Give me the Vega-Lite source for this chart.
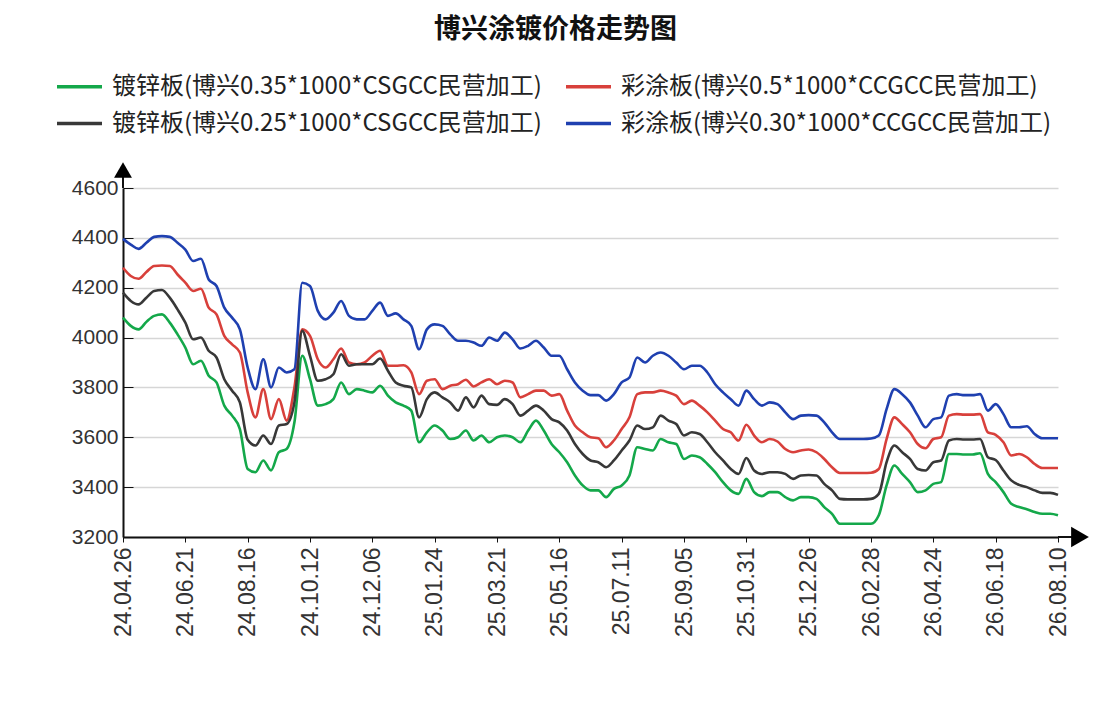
{
"$schema": "https://vega.github.io/schema/vega-lite/v6.json",
"width": 935, "height": 349,
"autosize": {"type": "none"},
"padding": {"left": 123, "top": 188, "right": 48, "bottom": 166},
"background": "white",
"title": {"text": "博兴涂镀价格走势图", "font": "Noto Sans CJK SC", "fontSize": 27, "fontWeight": "bold", "color": "#111111", "anchor": "middle", "offset": 18, "dx": -35},
"config": {"view": {"stroke": null}},
"data": {"values": [
{"d":"24.04.26","g":4080,"r":4280,"k":4180,"b":4396},
{"d":"24.05.03","g":4047,"r":4247,"k":4147,"b":4373},
{"d":"24.05.10","g":4033,"r":4236,"k":4133,"b":4356},
{"d":"24.05.17","g":4063,"r":4263,"k":4160,"b":4380},
{"d":"24.05.24","g":4087,"r":4287,"k":4187,"b":4404},
{"d":"24.05.31","g":4093,"r":4289,"k":4191,"b":4407},
{"d":"24.06.07","g":4060,"r":4287,"k":4160,"b":4404},
{"d":"24.06.14","g":4013,"r":4253,"k":4113,"b":4380},
{"d":"24.06.21","g":3960,"r":4220,"k":4060,"b":4353},
{"d":"24.06.28","g":3893,"r":4187,"k":3993,"b":4307},
{"d":"24.07.05","g":3907,"r":4196,"k":4000,"b":4316},
{"d":"24.07.12","g":3847,"r":4120,"k":3947,"b":4233},
{"d":"24.07.19","g":3820,"r":4093,"k":3920,"b":4207},
{"d":"24.07.26","g":3727,"r":4007,"k":3833,"b":4120},
{"d":"24.08.02","g":3687,"r":3973,"k":3787,"b":4080},
{"d":"24.08.09","g":3633,"r":3940,"k":3740,"b":4033},
{"d":"24.08.16","g":3473,"r":3780,"k":3590,"b":3880},
{"d":"24.08.23","g":3460,"r":3680,"k":3567,"b":3793},
{"d":"24.08.30","g":3507,"r":3793,"k":3607,"b":3913},
{"d":"24.09.06","g":3467,"r":3673,"k":3573,"b":3800},
{"d":"24.09.13","g":3540,"r":3753,"k":3647,"b":3880},
{"d":"24.09.20","g":3553,"r":3667,"k":3653,"b":3860},
{"d":"24.09.27","g":3660,"r":3800,"k":3740,"b":3873},
{"d":"24.10.04","g":3927,"r":4033,"k":4027,"b":4220},
{"d":"24.10.12","g":3833,"r":4007,"k":3927,"b":4207},
{"d":"24.10.19","g":3727,"r":3913,"k":3827,"b":4107},
{"d":"24.10.26","g":3733,"r":3880,"k":3833,"b":4073},
{"d":"24.11.02","g":3753,"r":3913,"k":3853,"b":4100},
{"d":"24.11.09","g":3820,"r":3956,"k":3933,"b":4147},
{"d":"24.11.16","g":3773,"r":3900,"k":3887,"b":4087},
{"d":"24.11.23","g":3793,"r":3893,"k":3893,"b":4073},
{"d":"24.11.30","g":3787,"r":3900,"k":3893,"b":4073},
{"d":"24.12.06","g":3780,"r":3927,"k":3893,"b":4107},
{"d":"24.12.12","g":3807,"r":3947,"k":3916,"b":4140},
{"d":"24.12.18","g":3767,"r":3887,"k":3867,"b":4087},
{"d":"24.12.24","g":3740,"r":3887,"k":3820,"b":4097},
{"d":"24.12.30","g":3727,"r":3889,"k":3807,"b":4073},
{"d":"25.01.06","g":3707,"r":3860,"k":3800,"b":4047},
{"d":"25.01.12","g":3580,"r":3773,"k":3680,"b":3953},
{"d":"25.01.18","g":3620,"r":3827,"k":3753,"b":4033},
{"d":"25.01.24","g":3647,"r":3833,"k":3780,"b":4053},
{"d":"25.01.31","g":3627,"r":3793,"k":3760,"b":4047},
{"d":"25.02.07","g":3593,"r":3807,"k":3740,"b":4013},
{"d":"25.02.14","g":3600,"r":3813,"k":3707,"b":3987},
{"d":"25.02.21","g":3627,"r":3831,"k":3760,"b":3987},
{"d":"25.02.28","g":3587,"r":3804,"k":3720,"b":3980},
{"d":"25.03.07","g":3607,"r":3820,"k":3767,"b":3967},
{"d":"25.03.14","g":3580,"r":3833,"k":3733,"b":4000},
{"d":"25.03.21","g":3600,"r":3813,"k":3730,"b":3987},
{"d":"25.03.28","g":3607,"r":3827,"k":3753,"b":4020},
{"d":"25.04.04","g":3600,"r":3820,"k":3733,"b":3993},
{"d":"25.04.11","g":3580,"r":3760,"k":3687,"b":3956},
{"d":"25.04.18","g":3627,"r":3773,"k":3707,"b":3967},
{"d":"25.04.25","g":3667,"r":3787,"k":3727,"b":3987},
{"d":"25.05.02","g":3627,"r":3787,"k":3707,"b":3960},
{"d":"25.05.09","g":3573,"r":3767,"k":3673,"b":3927},
{"d":"25.05.16","g":3540,"r":3773,"k":3660,"b":3927},
{"d":"25.05.23","g":3500,"r":3707,"k":3627,"b":3873},
{"d":"25.05.30","g":3447,"r":3647,"k":3573,"b":3820},
{"d":"25.06.06","g":3407,"r":3620,"k":3533,"b":3787},
{"d":"25.06.13","g":3387,"r":3600,"k":3507,"b":3769},
{"d":"25.06.20","g":3387,"r":3596,"k":3500,"b":3769},
{"d":"25.06.27","g":3360,"r":3560,"k":3480,"b":3747},
{"d":"25.07.04","g":3393,"r":3587,"k":3507,"b":3773},
{"d":"25.07.11","g":3407,"r":3633,"k":3547,"b":3820},
{"d":"25.07.18","g":3447,"r":3680,"k":3587,"b":3840},
{"d":"25.07.25","g":3560,"r":3773,"k":3647,"b":3920},
{"d":"25.08.01","g":3553,"r":3780,"k":3633,"b":3900},
{"d":"25.08.08","g":3547,"r":3780,"k":3640,"b":3927},
{"d":"25.08.15","g":3593,"r":3787,"k":3687,"b":3940},
{"d":"25.08.22","g":3580,"r":3780,"k":3667,"b":3927},
{"d":"25.08.29","g":3573,"r":3767,"k":3653,"b":3900},
{"d":"25.09.05","g":3513,"r":3733,"k":3607,"b":3873},
{"d":"25.09.12","g":3527,"r":3747,"k":3620,"b":3887},
{"d":"25.09.19","g":3520,"r":3727,"k":3613,"b":3887},
{"d":"25.09.26","g":3493,"r":3700,"k":3580,"b":3860},
{"d":"25.10.03","g":3460,"r":3667,"k":3540,"b":3813},
{"d":"25.10.10","g":3420,"r":3633,"k":3507,"b":3780},
{"d":"25.10.17","g":3387,"r":3620,"k":3473,"b":3753},
{"d":"25.10.24","g":3373,"r":3587,"k":3453,"b":3727},
{"d":"25.10.31","g":3433,"r":3650,"k":3517,"b":3787},
{"d":"25.11.07","g":3380,"r":3607,"k":3467,"b":3753},
{"d":"25.11.14","g":3364,"r":3580,"k":3453,"b":3727},
{"d":"25.11.21","g":3380,"r":3593,"k":3460,"b":3740},
{"d":"25.11.28","g":3380,"r":3583,"k":3460,"b":3733},
{"d":"25.12.05","g":3360,"r":3553,"k":3453,"b":3700},
{"d":"25.12.12","g":3347,"r":3540,"k":3433,"b":3673},
{"d":"25.12.19","g":3360,"r":3547,"k":3447,"b":3687},
{"d":"25.12.26","g":3360,"r":3551,"k":3449,"b":3689},
{"d":"26.01.03","g":3353,"r":3540,"k":3447,"b":3687},
{"d":"26.01.11","g":3320,"r":3513,"k":3413,"b":3660},
{"d":"26.01.19","g":3293,"r":3480,"k":3387,"b":3620},
{"d":"26.01.27","g":3253,"r":3457,"k":3353,"b":3593},
{"d":"26.02.04","g":3253,"r":3457,"k":3351,"b":3593},
{"d":"26.02.12","g":3253,"r":3457,"k":3351,"b":3593},
{"d":"26.02.20","g":3253,"r":3457,"k":3351,"b":3593},
{"d":"26.02.28","g":3253,"r":3458,"k":3353,"b":3595},
{"d":"26.03.07","g":3287,"r":3473,"k":3373,"b":3607},
{"d":"26.03.14","g":3407,"r":3593,"k":3500,"b":3713},
{"d":"26.03.21","g":3487,"r":3680,"k":3567,"b":3793},
{"d":"26.03.28","g":3453,"r":3653,"k":3540,"b":3773},
{"d":"26.04.04","g":3420,"r":3620,"k":3513,"b":3740},
{"d":"26.04.11","g":3380,"r":3573,"k":3473,"b":3687},
{"d":"26.04.18","g":3387,"r":3556,"k":3467,"b":3640},
{"d":"26.04.24","g":3413,"r":3593,"k":3500,"b":3673},
{"d":"26.05.01","g":3420,"r":3600,"k":3507,"b":3680},
{"d":"26.05.08","g":3533,"r":3687,"k":3587,"b":3767},
{"d":"26.05.15","g":3533,"r":3693,"k":3593,"b":3773},
{"d":"26.05.22","g":3531,"r":3691,"k":3591,"b":3769},
{"d":"26.05.29","g":3531,"r":3691,"k":3591,"b":3769},
{"d":"26.06.05","g":3536,"r":3693,"k":3593,"b":3773},
{"d":"26.06.12","g":3453,"r":3620,"k":3520,"b":3707},
{"d":"26.06.18","g":3420,"r":3610,"k":3509,"b":3733},
{"d":"26.06.25","g":3380,"r":3580,"k":3467,"b":3693},
{"d":"26.07.02","g":3333,"r":3527,"k":3427,"b":3640},
{"d":"26.07.09","g":3320,"r":3533,"k":3409,"b":3640},
{"d":"26.07.16","g":3311,"r":3520,"k":3400,"b":3644},
{"d":"26.07.23","g":3300,"r":3493,"k":3387,"b":3613},
{"d":"26.07.30","g":3293,"r":3477,"k":3377,"b":3596},
{"d":"26.08.04","g":3293,"r":3477,"k":3377,"b":3596},
{"d":"26.08.10","g":3287,"r":3477,"k":3369,"b":3596}
]},
"layer": [
{
"transform": [{"fold": ["g", "r", "k", "b"], "as": ["s", "v"]}],
"mark": {"type": "line", "strokeWidth": 2.6, "interpolate": "monotone"},
"encoding": {
"x": {"field": "d", "type": "ordinal", "sort": null, "scale": {"type": "point", "padding": 0},
"axis": {"values": ["24.04.26","24.06.21","24.08.16","24.10.12","24.12.06","25.01.24","25.03.21","25.05.16","25.07.11","25.09.05","25.10.31","25.12.26","26.02.28","26.04.24","26.06.18","26.08.10"],
"title": null, "labelAngle": 270, "labelFont": "Liberation Sans", "labelFontSize": 23, "labelColor": "#333333", "domainColor": "#111111", "domainWidth": 2, "tickColor": "#111111", "tickSize": 5, "labelPadding": 5, "grid": false}},
"y": {"field": "v", "type": "quantitative", "scale": {"domain": [3200, 4600], "nice": false, "zero": false},
"axis": {"values": [3200,3400,3600,3800,4000,4200,4400,4600], "format": "d", "title": null, "grid": true, "gridColor": "#d6d6d6", "gridWidth": 1.5, "domainColor": "#111111", "domainWidth": 2, "tickColor": "#111111", "tickSize": -10, "labelPadding": 15, "labelFont": "Liberation Sans", "labelFontSize": 21, "labelColor": "#333333"}},
"color": {"field": "s", "type": "nominal", "scale": {"domain": ["g", "r", "k", "b"], "range": ["#14a84a", "#d8403b", "#383838", "#1f40b0"]},
"legend": {"title": null, "orient": "none", "legendX": -68, "legendY": -126, "direction": "horizontal", "columns": 2, "symbolType": "stroke", "symbolSize": 2025, "symbolStrokeWidth": 3.5, "labelFont": "Noto Sans CJK SC", "labelFontSize": 24, "labelColor": "#222222", "labelOffset": 8, "columnPadding": 17, "rowPadding": 0, "labelLimit": 700,
"labelExpr": "datum.label == 'g' ? '镀锌板(博兴0.35*1000*CSGCC民营加工)' : datum.label == 'r' ? '彩涂板(博兴0.5*1000*CCGCC民营加工)' : datum.label == 'k' ? '镀锌板(博兴0.25*1000*CSGCC民营加工)' : '彩涂板(博兴0.30*1000*CCGCC民营加工)'"}}
}
},
{
"data": {"values": [{}]},
"mark": {"type": "rule", "color": "#111111", "strokeWidth": 2},
"encoding": {"x": {"datum": "24.04.26", "type": "ordinal"}, "y": {"datum": 4600, "type": "quantitative"}, "y2": {"datum": 4672}}
},
{
"data": {"values": [{}]},
"mark": {"type": "point", "shape": "triangle-up", "filled": true, "color": "#000000", "size": 320, "opacity": 1},
"encoding": {"x": {"datum": "24.04.26", "type": "ordinal"}, "y": {"datum": 4672, "type": "quantitative"}}
},
{
"data": {"values": [{}]},
"mark": {"type": "rule", "color": "#111111", "strokeWidth": 2, "x2Offset": 14},
"encoding": {"x": {"datum": "26.08.10", "type": "ordinal"}, "x2": {"datum": "26.08.10"}, "y": {"datum": 3200, "type": "quantitative"}}
},
{
"data": {"values": [{}]},
"mark": {"type": "point", "shape": "triangle-right", "filled": true, "color": "#000000", "size": 420, "opacity": 1, "xOffset": 22},
"encoding": {"x": {"datum": "26.08.10", "type": "ordinal"}, "y": {"datum": 3200, "type": "quantitative"}}
}
]
}
